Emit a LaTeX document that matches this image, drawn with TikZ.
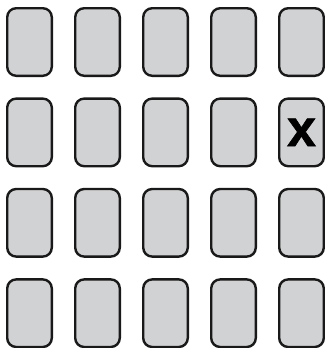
\documentclass[tikz,border=0pt]{standalone}
\usepackage{fontspec}
\newfontfamily\markfont[FakeBold=1.2]{Liberation Sans Bold}
\definecolor{cardgray}{RGB}{209,210,212}
\usetikzlibrary{positioning}

\begin{document}
\begin{tikzpicture}[x=1pt, y=-1pt,
  card/.style={draw=black!90, fill=cardgray, line width=2.4pt, rounded corners=9pt,
    minimum width=44.6pt, minimum height=67.6pt, inner sep=0pt}]
  \useasboundingbox (0,0) rectangle (324,348);
  \foreach \col in {0,...,4} {
    \foreach \row in {0,...,3} {
      \node[card] (card-\row-\col) at (29.5+68*\col, 42+90.4*\row) {};
    }
  }
  \node[font=\markfont\fontsize{52}{52}\selectfont, inner sep=0pt] (mark) at (card-1-4) {x};
\end{tikzpicture}
\end{document}
